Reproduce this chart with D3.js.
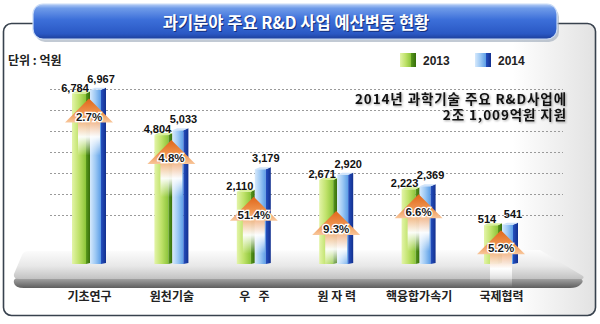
<!DOCTYPE html>
<html>
<head>
<meta charset="utf-8">
<script src="https://cdn.jsdelivr.net/npm/d3@7"></script>
<style>
html, body { margin: 0; padding: 0; background: #fff; }
svg { display: block; font-family: "Liberation Sans", "Noto Sans CJK KR", sans-serif; }
</style>
</head>
<body>
<div id="chart"></div>
<script>
// chart values
const categories = ["기초연구", "원천기술", "우   주", "원 자 력", "핵융합가속기", "국제협력"];
const budget2013 = [6784, 4804, 2110, 2671, 2223, 514];
const budget2014 = [6967, 5033, 3179, 2920, 2369, 541];
const growthLabels = ["2.7%", "4.8%", "51.4%", "9.3%", "6.6%", "5.2%"];
const seriesNames = ["2013", "2014"];
const gridValues = [1000, 2000, 3000, 4000, 5000, 6000, 7000];
const titleText = "과기분야 주요 R&D 사업 예산변동 현황";
const unitText = "단위 : 억원";
const noteLines = ["2014년 과학기술 주요 R&D사업에", "2조 1,009억원 지원"];

const width = 600, height = 324;
const floorY = 264;
const fmt = d3.format(",");
const krFont = "\"Noto Sans CJK KR\", sans-serif";

const svg = d3.select("#chart").append("svg")
    .attr("width", width)
    .attr("height", height);

const defs = svg.append("defs");

function gradient(id, stops, vertical) {
    const g = defs.append("linearGradient").attr("id", id)
        .attr("x1", 0).attr("y1", 0)
        .attr("x2", vertical ? 0 : 1).attr("y2", vertical ? 1 : 0);
    stops.forEach(s => g.append("stop").attr("offset", s[0]).attr("stop-color", s[1]).attr("stop-opacity", s[2] == null ? 1 : s[2]));
}

gradient("bg", [[0, "#ffffff"], [0.86, "#ffffff"], [1, "#e2e2e2"]], false);
gradient("banner", [[0, "#b9d0f6"], [0.12, "#6f9be9"], [0.45, "#3c6fd9"], [0.85, "#2a58c4"], [1, "#1d3f9a"]], true);
gradient("floorTop", [[0, "#fdfdfd"], [0.55, "#e8e8e8"], [1, "#c2c2c2"]], true);
gradient("floorFront", [[0, "#a8a8a8"], [1, "#5e5e5e"]], true);
gradient("greenFront", [[0, "#e3f4a8"], [0.5, "#bfe26a"], [1, "#8cc53a"]], false);
gradient("greenSide", [[0, "#5a9a1c"], [1, "#356d0c"]], false);
gradient("blueFront", [[0, "#d6e9fc"], [0.5, "#9cc8f4"], [1, "#5b9de6"]], false);
gradient("blueSide", [[0, "#2450c0"], [1, "#13308e"]], false);
gradient("arrowHead", [[0, "#e0661a"], [0.6, "#ef9550"], [1, "#f8c79c"]], true);
gradient("arrowShaft", [[0, "#f6b88a", 0.95], [0.45, "#ffffff", 0.95], [1, "#ffffff", 0]], true);

// scales
const x = d3.scalePoint()
    .domain(categories)
    .range([89, 501]);

const y = d3.scaleLinear()
    .domain([0, 7000])
    .range([236, 89]);

// frame
svg.append("rect")
    .attr("x", 3.5).attr("y", 23.5)
    .attr("width", 592).attr("height", 292)
    .attr("rx", 8)
    .attr("fill", "url(#bg)")
    .attr("stroke", "#38424e")
    .attr("stroke-width", 1.6);

// title banner
svg.append("rect")
    .attr("x", 35).attr("y", 7)
    .attr("width", 524).attr("height", 35)
    .attr("rx", 10)
    .attr("fill", "#9aa6b8")
    .attr("opacity", 0.6);
svg.append("rect")
    .attr("x", 33).attr("y", 4)
    .attr("width", 524).attr("height", 35)
    .attr("rx", 10)
    .attr("fill", "url(#banner)")
    .attr("stroke", "#c9dbf7")
    .attr("stroke-width", 1.2);
[["#142f7a", 1], ["#ffffff", 0]].forEach(([col, off]) => {
    svg.append("text")
        .attr("x", 296 + off).attr("y", 28.5 + off)
        .attr("text-anchor", "middle")
        .attr("font-family", krFont)
        .attr("font-size", 16.5)
        .attr("font-weight", "bold")
        .attr("fill", col)
        .text(titleText);
});

// unit
svg.append("text")
    .attr("x", 8).attr("y", 65)
    .attr("font-family", krFont)
    .attr("font-size", 12)
    .attr("font-weight", "bold")
    .attr("fill", "#222")
    .text(unitText);

// legend
const legendX = d3.scalePoint().domain(seriesNames).range([400, 475]);
const legendFill = { "2013": ["greenFront", "greenSide"], "2014": ["blueFront", "blueSide"] };
seriesNames.forEach(name => {
    const lx = legendX(name);
    const item = svg.append("g").attr("transform", `translate(${lx},53)`);
    item.append("rect").attr("width", 11).attr("height", 14).attr("fill", `url(#${legendFill[name][0]})`);
    item.append("rect").attr("x", 11).attr("width", 5).attr("height", 14).attr("fill", `url(#${legendFill[name][1]})`);
    item.append("text")
        .attr("x", 23).attr("y", 12)
        .attr("font-size", 12)
        .attr("font-weight", "bold")
        .attr("fill", "#222")
        .text(name);
});

// grid
svg.append("g")
    .selectAll("line")
    .data(gridValues)
    .join("line")
    .attr("x1", 50).attr("x2", 563)
    .attr("y1", d => Math.round(y(d)) + 0.5)
    .attr("y2", d => Math.round(y(d)) + 0.5)
    .attr("stroke", "#9a9a9a")
    .attr("stroke-width", 1)
    .attr("stroke-dasharray", "2,2");

// note
noteLines.forEach((line, i) => {
    svg.append("text")
        .attr("x", 567).attr("y", 104 + i * 16)
        .attr("text-anchor", "end")
        .attr("font-family", krFont)
        .attr("font-size", 13.5)
        .attr("font-weight", "bold")
        .attr("letter-spacing", 0.9)
        .attr("fill", "#111")
        .style("filter", "drop-shadow(1px 1px 0.8px rgba(0,0,0,0.35))")
        .text(line);
});

// floor
svg.append("path")
    .attr("d", "M17,278 L580,278 Q584,280 582,283 L580,285 Q577,288 570,288 L24,288 Q15,288 14,283 Q13,279 17,278 Z")
    .attr("fill", "url(#floorFront)");
svg.append("path")
    .attr("d", "M28,251 L540,250 L583,276 Q585,279 580,279 L19,279 Q13,279 14,274 L22,255 Q24,251 28,251 Z")
    .attr("fill", "url(#floorTop)");

// bars
const bars = svg.append("g");
categories.forEach((cat, i) => {
    const c = x(cat);
    const t13 = y(budget2013[i]);
    const t14 = y(budget2014[i]);
    const g = bars.append("g");

    // 2013 bar
    g.append("rect")
        .attr("x", c - 17).attr("y", t13)
        .attr("width", 14).attr("height", floorY - t13)
        .attr("fill", "url(#greenFront)");
    g.append("path")
        .attr("d", `M${c - 3},${t13} L${c + 1},${t13 - 2} L${c + 1},${floorY - 1} L${c - 3},${floorY} Z`)
        .attr("fill", "url(#greenSide)");
    g.append("path")
        .attr("d", `M${c - 17},${t13} L${c - 3},${t13} L${c + 1},${t13 - 2} L${c - 13},${t13 - 2} Z`)
        .attr("fill", "#d9ef9a");

    // 2014 bar
    g.append("rect")
        .attr("x", c + 1).attr("y", t14)
        .attr("width", 11).attr("height", floorY - t14)
        .attr("fill", "url(#blueFront)");
    g.append("path")
        .attr("d", `M${c + 12},${t14} L${c + 17},${t14 - 2} L${c + 17},${floorY - 1} L${c + 12},${floorY} Z`)
        .attr("fill", "url(#blueSide)");
    g.append("path")
        .attr("d", `M${c + 1},${t14} L${c + 12},${t14} L${c + 17},${t14 - 2} L${c + 6},${t14 - 2} Z`)
        .attr("fill", "#cfe3fa");
});

// growth arrows
const arrowShift = { "원 자 력": 26 };
const arrows = svg.append("g");
categories.forEach((cat, i) => {
    const c = x(cat);
    const tip = y(budget2013[i]) + 5 + (arrowShift[cat] || 0);
    const a = arrows.append("g").attr("transform", `translate(${c},${tip})`);
    a.append("rect")
        .attr("x", -11).attr("y", 23)
        .attr("width", 22).attr("height", 34)
        .attr("fill", "url(#arrowShaft)");
    a.append("path")
        .attr("d", "M0,0 L24,24 L-24,24 Z")
        .attr("fill", "url(#arrowHead)");
    a.append("text")
        .attr("y", 22)
        .attr("text-anchor", "middle")
        .attr("font-size", 11.5)
        .attr("font-weight", "bold")
        .attr("fill", "#1a1a1a")
        .attr("stroke", "#ffffff")
        .attr("stroke-width", 2.5)
        .attr("paint-order", "stroke")
        .text(growthLabels[i]);
});

// value labels
const labels = svg.append("g")
    .attr("font-size", 11)
    .attr("font-weight", "bold")
    .attr("fill", "#111")
    .attr("text-anchor", "middle");
categories.forEach((cat, i) => {
    const c = x(cat);
    labels.append("text")
        .attr("x", c - 14).attr("y", y(budget2013[i]) - 2)
        .text(fmt(budget2013[i]));
    labels.append("text")
        .attr("x", c + 12).attr("y", y(budget2014[i]) - 7)
        .text(fmt(budget2014[i]));
});

// category axis
const axis = svg.append("g")
    .attr("transform", "translate(0,290)")
    .call(d3.axisBottom(x).tickSize(0).tickPadding(0));
axis.select(".domain").remove();
axis.selectAll("text")
    .attr("font-family", krFont)
    .attr("font-size", 12)
    .attr("font-weight", "bold")
    .attr("fill", "#222")
    .attr("dy", "0.95em")
    .style("white-space", "pre");
</script>
</body>
</html>
